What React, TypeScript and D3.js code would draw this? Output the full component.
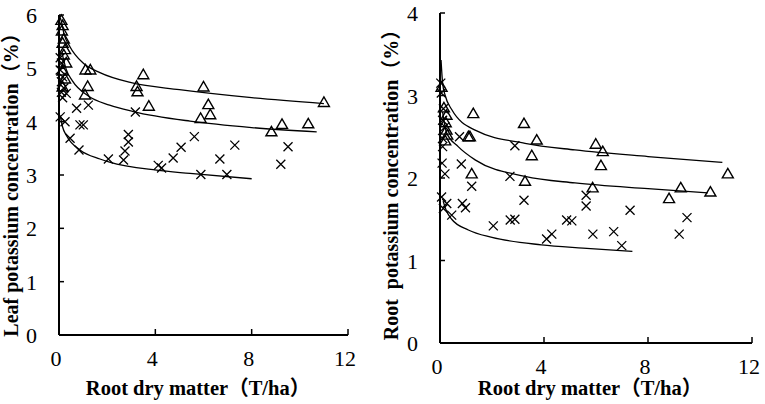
import React from "react";
import * as d3 from "d3";

// ---------- data ----------
const xTicks = [0, 4, 8, 12];
const leafYTicks = [0, 1, 2, 3, 4, 5, 6];
const rootYTicks = [0, 1, 2, 3, 4];

type P = [number, number];

const leafTriangles: P[] = [
  [0.1, 5.9], [0.15, 5.8], [0.12, 5.7], [0.2, 5.55], [0.15, 5.47], [0.25, 5.35],
  [0.2, 5.25], [0.3, 5.1], [0.15, 4.95], [0.25, 4.8], [0.15, 4.65],
  [1.1, 4.97], [1.3, 4.97], [1.19, 4.66], [1.08, 4.5],
  [3.5, 4.88], [3.22, 4.66], [3.26, 4.56], [3.73, 4.29],
  [6.0, 4.65], [6.2, 4.32], [6.28, 4.13], [5.88, 4.06],
  [8.82, 3.81], [9.26, 3.95], [10.35, 3.96], [11.0, 4.36],
];

const leafCrosses: P[] = [
  [0.05, 5.2], [0.1, 5.1], [0.05, 4.97], [0.15, 4.84], [0.1, 4.75], [0.2, 4.63],
  [0.1, 4.55], [0.3, 4.53], [0.15, 4.45], [0.05, 4.09], [0.25, 4.0],
  [0.73, 4.25], [1.22, 4.31], [0.87, 3.94], [1.01, 3.94], [0.46, 3.69], [0.83, 3.47],
  [2.05, 3.3], [3.17, 4.18], [2.88, 3.76], [2.88, 3.62], [2.74, 3.45], [2.68, 3.28],
  [4.12, 3.18], [4.26, 3.13], [4.74, 3.32], [5.07, 3.52], [5.62, 3.72], [5.89, 3.01],
  [6.68, 3.3], [7.3, 3.56], [6.97, 3.01], [9.21, 3.2], [9.51, 3.53],
];

const leafFitTop: P[] = [
  [0.05, 5.95], [0.1, 5.88], [0.2, 5.66], [0.46, 5.4], [1.0, 5.1], [1.7, 4.92],
  [3.0, 4.73], [5.0, 4.6], [8.0, 4.45], [11.0, 4.34],
];
const leafFitMid: P[] = [
  [0.12, 5.3], [0.3, 4.98], [0.55, 4.77], [1.22, 4.48], [2.1, 4.31], [3.08, 4.19],
  [5.44, 4.01], [8.0, 3.89], [10.7, 3.81],
];
const leafFitLow: P[] = [
  [0.05, 4.12], [0.15, 3.9], [0.32, 3.73], [0.87, 3.47], [1.7, 3.3], [2.1, 3.24],
  [4.05, 3.09], [5.44, 3.03], [8.0, 2.93],
];

const rootTriangles: P[] = [
  [0.06, 3.1], [0.15, 2.85], [0.25, 2.76], [0.22, 2.67], [0.25, 2.58], [0.28, 2.52], [0.2, 2.45],
  [1.28, 2.78], [1.09, 2.5], [1.15, 2.5], [1.22, 2.05],
  [3.23, 2.66], [3.72, 2.46], [3.53, 2.27], [3.27, 1.96],
  [5.99, 2.41], [6.26, 2.32], [6.19, 2.15], [5.87, 1.88],
  [9.26, 1.88], [8.81, 1.75], [10.4, 1.83], [11.07, 2.05],
];

const rootCrosses: P[] = [
  [0.03, 3.15], [0.05, 3.03], [0.13, 2.84], [0.1, 2.7], [0.19, 2.62], [0.1, 2.48],
  [0.1, 2.38], [0.08, 2.18], [0.19, 2.05], [0.06, 1.77], [0.26, 1.69], [0.13, 1.63], [0.45, 1.55],
  [0.75, 2.5], [0.82, 2.17], [1.22, 1.9], [0.86, 1.69], [0.98, 1.64],
  [2.88, 2.39], [2.69, 2.02], [3.23, 1.73], [2.05, 1.42], [2.7, 1.49], [2.88, 1.5],
  [4.1, 1.26], [4.3, 1.32], [4.87, 1.49], [5.07, 1.48], [5.62, 1.79], [5.62, 1.66],
  [5.88, 1.32], [6.68, 1.35], [6.99, 1.18], [7.31, 1.61], [9.2, 1.32], [9.5, 1.52],
];

const rootFitTop: P[] = [
  [0.04, 3.43], [0.1, 3.15], [0.2, 3.0], [0.45, 2.83], [1.35, 2.58], [3.27, 2.42],
  [5.19, 2.34], [8.0, 2.26], [10.86, 2.19],
];
const rootFitMid: P[] = [
  [0.1, 2.8], [0.25, 2.55], [0.7, 2.38], [1.35, 2.22], [3.27, 2.02], [5.19, 1.94],
  [8.0, 1.87], [10.3, 1.82],
];
const rootFitLow: P[] = [
  [0.12, 1.72], [0.25, 1.6], [0.45, 1.5], [1.09, 1.37], [2.0, 1.28], [3.9, 1.19],
  [5.5, 1.15], [7.4, 1.11],
];

const leafTitle = "Leaf potassium concentration（%）";
const rootTitle = "Root  potassium concentration（%）";
const xTitle = "Root dry matter（T/ha）";

// ---------- drawing ----------
const FONT = "'Liberation Serif', 'Times New Roman', 'Noto Sans CJK SC', serif";

interface PanelProps {
  x0: number; x1: number; yTop: number; yBottom: number;
  yMax: number; yTicks: number[];
  triangles: P[]; crosses: P[]; fits: P[][];
  yTitle: string; yTitleX: number; xTitleX: number;
}

function Panel(p: PanelProps) {
  const x = d3.scaleLinear().domain([0, 12]).range([p.x0, p.x1]);
  const y = d3.scaleLinear().domain([0, p.yMax]).range([p.yBottom, p.yTop]);
  const line = d3.line<P>().x(d => x(d[0])).y(d => y(d[1])).curve(d3.curveMonotoneX);
  const tri = (cx: number, cy: number) =>
    `M${cx - 5.5},${cy + 4} L${cx + 5.5},${cy + 4} L${cx},${cy - 5.5} Z`;
  const cross = (cx: number, cy: number) =>
    `M${cx - 4.5},${cy - 4.5} L${cx + 4.5},${cy + 4.5} M${cx - 4.5},${cy + 4.5} L${cx + 4.5},${cy - 4.5}`;
  const titleY = 180;
  return (
    <g>
      {p.fits.map((f, i) => (
        <path key={"f" + i} d={line(f) || ""} fill="none" stroke="#000" strokeWidth={1.3} />
      ))}
      {p.crosses.map((d, i) => (
        <path key={"c" + i} d={cross(x(d[0]), y(d[1]))} fill="none" stroke="#000" strokeWidth={1.3} />
      ))}
      {p.triangles.map((d, i) => (
        <path key={"t" + i} d={tri(x(d[0]), y(d[1]))} fill="none" stroke="#000" strokeWidth={1.4} />
      ))}
      {/* axes */}
      <line x1={x(0)} x2={x(0)} y1={y(p.yMax)} y2={y(0)} stroke="#000" strokeWidth={2} />
      <line x1={x(0)} x2={x(12)} y1={y(0)} y2={y(0)} stroke="#000" strokeWidth={2} />
      {p.yTicks.map(t => (
        <g key={"yt" + t}>
          <line x1={x(0)} x2={x(0) + 5} y1={y(t)} y2={y(t)} stroke="#000" strokeWidth={1.5} />
          <text x={x(0) - 22} y={y(t) + 8} textAnchor="end" fontSize={22} fontFamily={FONT}>{t}</text>
        </g>
      ))}
      {xTicks.map(t => (
        <g key={"xt" + t}>
          <line x1={x(t)} x2={x(t)} y1={y(0)} y2={y(0) - 6} stroke="#000" strokeWidth={1.5} />
          <text x={x(t) - 3} y={y(0) + 31} textAnchor="middle" fontSize={22} fontFamily={FONT}>{t}</text>
        </g>
      ))}
      <text x={p.xTitleX} y={395} textAnchor="middle" fontSize={20.5} fontWeight="bold" fontFamily={FONT}>{xTitle}</text>
      <text
        transform={`translate(${p.yTitleX},${titleY}) rotate(-90)`}
        textAnchor="middle" fontSize={20} fontWeight="bold" fontFamily={FONT}
        style={{ whiteSpace: "pre" }}
      >{p.yTitle}</text>
    </g>
  );
}

export default function App() {
  return (
    <svg width={765} height={404} style={{ position: "absolute", left: 0, top: 0, background: "#fff" }}>
      <rect width={765} height={404} fill="#fff" />
      <Panel
        x0={59} x1={348} yTop={15} yBottom={335} yMax={6} yTicks={leafYTicks}
        triangles={leafTriangles} crosses={leafCrosses} fits={[leafFitTop, leafFitMid, leafFitLow]}
        yTitle={leafTitle} yTitleX={18} xTitleX={198}
      />
      <Panel
        x0={440} x1={752} yTop={13} yBottom={343} yMax={4} yTicks={rootYTicks}
        triangles={rootTriangles} crosses={rootCrosses} fits={[rootFitTop, rootFitMid, rootFitLow]}
        yTitle={rootTitle} yTitleX={398} xTitleX={590}
      />
    </svg>
  );
}
